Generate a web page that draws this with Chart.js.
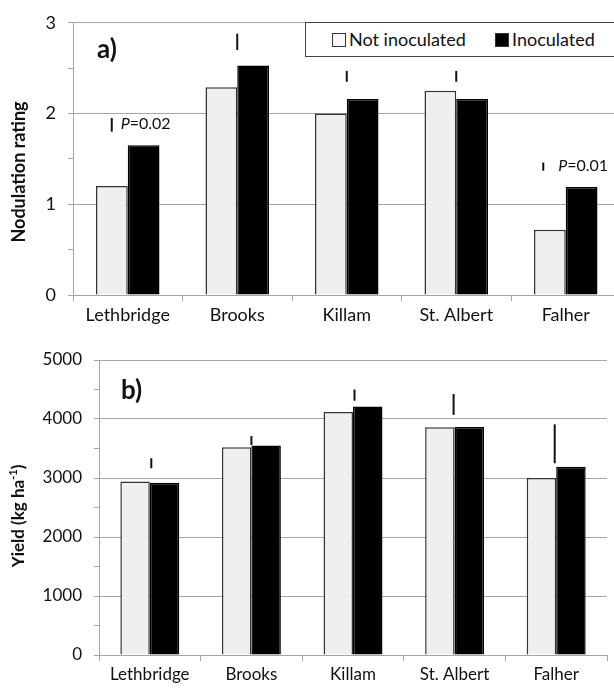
<!DOCTYPE html>
<html>
<head>
<meta charset="utf-8">
<script src="https://cdn.jsdelivr.net/npm/chart.js@4.4.1/dist/chart.umd.min.js"></script>
<style>
  html, body { margin: 0; padding: 0; background: #fff; overflow: hidden; width: 614px; height: 690px; }
  #wrap { position: relative; width: 614px; height: 690px; overflow: hidden; }
  #noduleChart { position: absolute; left: 0; top: 0; }
  #yieldChart { position: absolute; left: 0; top: 330px; }
  .legend {
    position: absolute; left: 305px; top: 22px; width: 330px; height: 33px;
    border: 1px solid #444; background: #fff;
    font: 18px Lato, sans-serif; color: #111;
  }
  .legend span { position: absolute; top: 5px; line-height: 22px; }
  .legend i { position: absolute; top: 10px; width: 14px; height: 14px; box-sizing: border-box; border: 1px solid #333; }
</style>
</head>
<body>
<div id="wrap">
  <canvas id="noduleChart" width="622" height="330"></canvas>
  <canvas id="yieldChart" width="614" height="360"></canvas>
  <div class="legend" id="legend"></div>
</div>
<script>
const sites = ['Lethbridge', 'Brooks', 'Killam', 'St. Albert', 'Falher'];
const seriesNames = ['Not inoculated', 'Inoculated'];
const seriesFill = ['#efefef', '#000000'];

// a) nodulation rating
const noduleNot = [1.20, 2.29, 2.00, 2.25, 0.72];
const noduleInoc = [1.65, 2.53, 2.16, 2.16, 1.19];
const noduleLsdLow = [1.80, 2.70, 2.35, 2.35, 1.37];
const noduleLsdHigh = [1.95, 2.88, 2.47, 2.47, 1.46];
const noduleP = ['0.02', '', '', '', '0.01'];

// b) yield, kg/ha
const yieldNot = [2940, 3520, 4120, 3860, 3000];
const yieldInoc = [2920, 3550, 4210, 3865, 3190];
const yieldLsdLow = [3165, 3560, 4310, 4070, 3250];
const yieldLsdHigh = [3335, 3710, 4500, 4425, 3910];

const GRID = '#a6a6a6';
const INK = '#111';

/* =========================
   PLUGINS
========================= */

// vertical LSD bars above each site, with optional P value
const lsdPlugin = {
  id: 'lsd',
  afterDatasetsDraw(chart, args, opts) {
    const { ctx } = chart;
    const xs = chart.scales.x, ys = chart.scales.y;
    ctx.save();
    ctx.strokeStyle = INK;
    ctx.lineWidth = 2;
    opts.low.forEach((lo, i) => {
      const px = xs.getPixelForValue(i) + (opts.shift[i] || 0);
      const y1 = ys.getPixelForValue(lo);
      const y2 = ys.getPixelForValue(opts.high[i]);
      ctx.beginPath();
      ctx.moveTo(px, y1);
      ctx.lineTo(px, y2);
      ctx.stroke();
      if (opts.p && opts.p[i]) {
        let tx = px + opts.gap[i];
        const ty = (y1 + y2) / 2 - 1;
        ctx.fillStyle = INK;
        ctx.textAlign = 'left';
        ctx.textBaseline = 'middle';
        ctx.font = 'italic 16px Lato';
        ctx.fillText('P', tx, ty);
        tx += ctx.measureText('P').width;
        ctx.font = '16px Lato';
        ctx.fillText('=' + opts.p[i], tx, ty);
      }
    });
    ctx.restore();
  }
};

// panel letter + rotated y title
const textPlugin = {
  id: 'panelText',
  afterDraw(chart, args, opts) {
    const { ctx } = chart;
    const big = 'bold ' + opts.titleSize + 'px Lato';
    const small = 'bold 11px Lato';
    ctx.save();
    ctx.fillStyle = INK;
    ctx.font = 'bold 26px Lato';
    ctx.textAlign = 'left';
    ctx.textBaseline = 'middle';
    ctx.fillText(opts.letter, opts.letterX, opts.letterY);

    ctx.translate(opts.titleX, opts.titleY);
    ctx.rotate(-Math.PI / 2);
    const main = opts.title, sup = opts.sup || '', tail = opts.tail || '';
    ctx.font = big;
    const wMain = ctx.measureText(main).width;
    const wTail = ctx.measureText(tail).width;
    ctx.font = small;
    const wSup = ctx.measureText(sup).width;
    let x = -(wMain + wSup + wTail) / 2;
    ctx.font = big;
    ctx.fillText(main, x, 0);
    x += wMain;
    if (sup) {
      ctx.font = small;
      ctx.fillText(sup, x, -6);
      x += wSup;
      ctx.font = big;
      ctx.fillText(tail, x, 0);
    }
    ctx.restore();
  }
};

/* =========================
   CHART BUILDER
========================= */

function makePanel(canvasId, p) {
  const ctx = document.getElementById(canvasId).getContext('2d');
  return new Chart(ctx, {
    type: 'bar',
    data: {
      labels: sites,
      datasets: [
        {
          label: seriesNames[0],
          data: p.notInoc,
          backgroundColor: seriesFill[0],
          borderColor: '#333',
          borderWidth: 1.5
        },
        {
          label: seriesNames[1],
          data: p.inoc,
          backgroundColor: seriesFill[1],
          borderColor: '#000',
          borderWidth: 1.5
        }
      ]
    },
    options: {
      responsive: false,
      animation: false,
      categoryPercentage: 0.58,
      barPercentage: 1,
      layout: { padding: { top: p.padTop, right: p.padRight, left: 0, bottom: 0 } },
      plugins: {
        legend: { display: false },
        tooltip: { enabled: false },
        lsd: p.lsd,
        panelText: p.text
      },
      scales: {
        x: {
          grid: { drawOnChartArea: false, drawTicks: true, tickLength: 6, color: GRID, offset: true },
          border: { color: GRID },
          ticks: { color: INK, font: { family: 'Lato', size: p.xFont }, padding: 3, maxRotation: 0 },
          afterFit: s => { s.height = 35; }
        },
        y: {
          min: 0,
          max: p.max,
          grid: {
            color: c => (c.tick && c.tick.value % p.major === 0) ? GRID : 'rgba(0,0,0,0)',
            tickColor: GRID,
            tickLength: 5
          },
          border: { color: GRID },
          ticks: {
            stepSize: p.major / 2,
            color: INK,
            font: { family: 'Lato', size: p.yFont },
            padding: 12,
            callback: v => (v % p.major === 0 ? v : '')
          },
          afterFit: s => { s.width = p.yWidth; }
        }
      }
    },
    plugins: [lsdPlugin, textPlugin]
  });
}

makePanel('noduleChart', {
  notInoc: noduleNot,
  inoc: noduleInoc,
  max: 3,
  major: 1,
  padTop: 16,
  padRight: 1.5,
  yWidth: 73,
  xFont: 18,
  yFont: 18,
  lsd: { low: noduleLsdLow, high: noduleLsdHigh, shift: [-16, 0, 0, 0, -22.5], p: noduleP, gap: [9, 0, 0, 0, 15] },
  text: { letter: 'a)', letterX: 97, letterY: 50, title: 'Nodulation rating', titleSize: 18, titleX: 19, titleY: 172 }
});

makePanel('yieldChart', {
  notInoc: yieldNot,
  inoc: yieldInoc,
  max: 5000,
  major: 1000,
  padTop: 30,
  padRight: 7,
  yWidth: 99,
  xFont: 17,
  yFont: 17,
  lsd: { low: yieldLsdLow, high: yieldLsdHigh, shift: [1.5, 0, 1.5, -1, -1.5] },
  text: { letter: 'b)', letterX: 121, letterY: 61, title: 'Yield (kg ha', sup: '-1', tail: ')', titleSize: 17, titleX: 19, titleY: 186 }
});

// legend box (top panel)
const legend = document.getElementById('legend');
legend.innerHTML = `
  <i style="left:26px;background:#f7f7f7"></i><span style="left:43px">${seriesNames[0]}</span>
  <i style="left:189px;background:#000"></i><span style="left:206px">${seriesNames[1]}</span>
`;
</script>
</body>
</html>
